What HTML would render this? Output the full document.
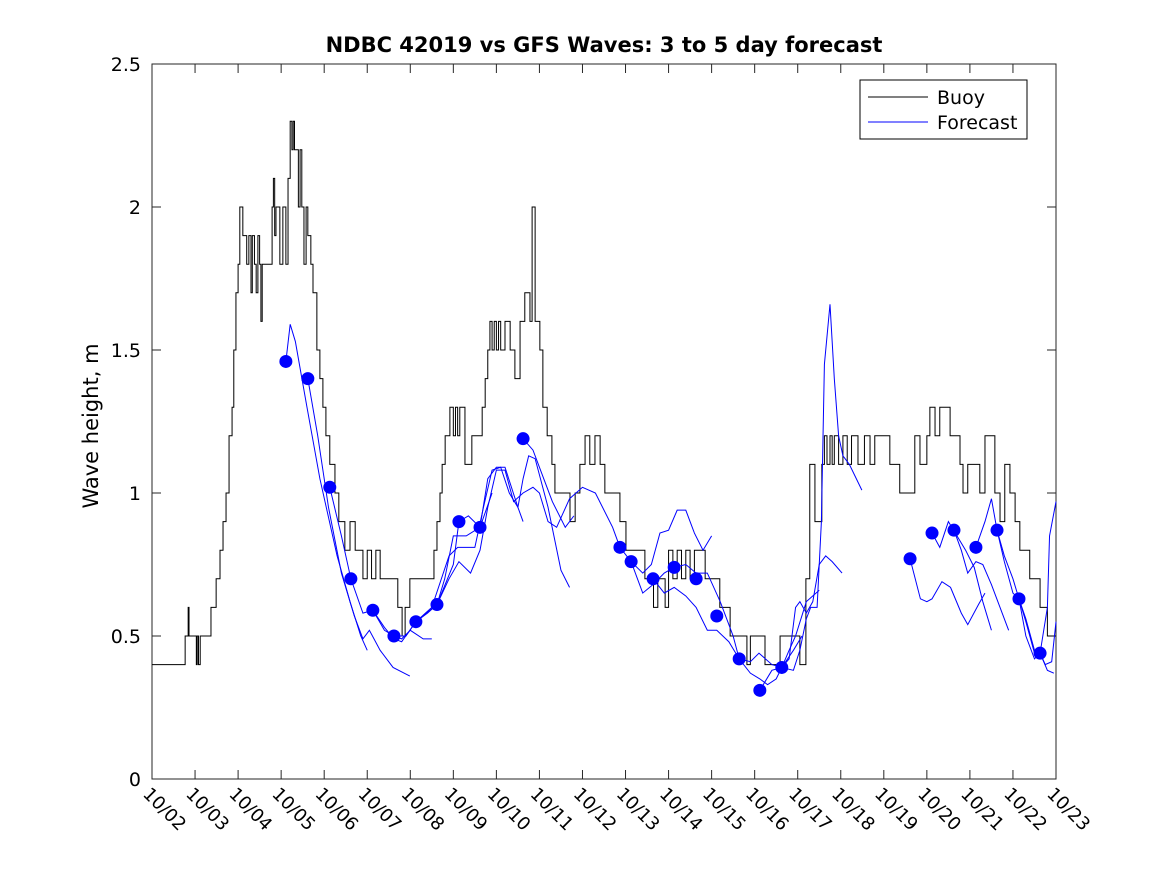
<!DOCTYPE html>
<html><head><meta charset="utf-8"><style>
body{margin:0;background:#fff}
svg{display:block;font-family:"DejaVu Sans","Liberation Sans",sans-serif}
</style></head><body>
<svg id="chart" width="1167" height="875" viewBox="0 0 1167 875">
<rect width="1167" height="875" fill="#fff"/>
<text x="604" y="52" text-anchor="middle" font-size="21" font-weight="bold">NDBC 42019 vs GFS Waves: 3 to 5 day forecast</text>
<text transform="translate(98,426) rotate(-90)" text-anchor="middle" font-size="21">Wave height, m</text>
<g id="axes"></g>
<g id="marks"></g>
<g id="legend">
<rect x="860" y="80" width="167" height="59" fill="#fff" stroke="#000" stroke-width="1"/>
<line x1="868" y1="97" x2="928" y2="97" stroke="#000"/>
<text x="937" y="104" font-size="19">Buoy</text>
<line x1="868" y1="122" x2="928" y2="122" stroke="#00f"/>
<text x="937" y="129" font-size="19">Forecast</text>
</g>
</svg>
<script>
const dayTicks=[2,3,4,5,6,7,8,9,10,11,12,13,14,15,16,17,18,19,20,21,22,23];
const yTicks=[0,0.5,1,1.5,2,2.5];
const yTickLabels=["0","0.5","1","1.5","2","2.5"];
const buoyT=[2,2.77,2.84,2.86,2.88,3.03,3.05,3.08,3.12,3.14,3.16,3.37,3.49,3.58,3.65,3.72,3.79,3.86,3.9,3.95,4.0,4.04,4.11,4.2,4.25,4.3,4.33,4.38,4.42,4.46,4.5,4.53,4.56,4.74,4.79,4.82,4.85,4.88,4.97,5.04,5.11,5.16,5.21,5.25,5.28,5.31,5.35,5.4,5.44,5.48,5.53,5.58,5.62,5.69,5.74,5.83,5.9,5.97,6.04,6.13,6.25,6.34,6.48,6.6,6.72,6.8,6.9,7.0,7.1,7.2,7.3,7.41,7.71,7.81,7.88,7.99,8.55,8.62,8.69,8.74,8.81,8.92,9.0,9.05,9.1,9.15,9.27,9.43,9.67,9.74,9.8,9.85,9.9,9.95,10.0,10.05,10.1,10.2,10.32,10.43,10.55,10.66,10.78,10.83,10.9,11.01,11.08,11.18,11.29,11.36,11.71,11.83,11.94,12.06,12.17,12.29,12.41,12.52,12.87,13.01,13.45,13.55,13.65,13.75,13.92,14.0,14.1,14.2,14.3,14.4,14.5,14.6,14.85,15.08,15.19,15.31,15.43,15.82,15.9,16.24,16.4,16.59,17.05,17.12,17.19,17.28,17.4,17.52,17.56,17.62,17.68,17.75,17.8,17.85,17.95,18.05,18.15,18.25,18.4,18.55,18.68,18.79,19.14,19.37,19.72,19.84,19.91,20.0,20.07,20.19,20.3,20.54,20.77,20.84,20.95,21.23,21.35,21.58,21.7,21.81,21.93,22.05,22.16,22.39,22.63,22.8,23];
const buoyV=[0.4,0.5,0.6,0.5,0.5,0.4,0.5,0.4,0.5,0.5,0.5,0.6,0.7,0.8,0.9,1.0,1.2,1.3,1.5,1.7,1.8,2.0,1.9,1.8,1.9,1.7,1.9,1.8,1.7,1.9,1.8,1.6,1.8,1.8,2.0,2.1,1.9,2.0,1.8,2.0,1.8,2.1,2.3,2.2,2.3,2.2,2.2,2.0,2.2,2.0,1.8,2.0,1.9,1.8,1.7,1.5,1.4,1.3,1.2,1.1,1.0,0.9,0.8,0.9,0.8,0.8,0.7,0.8,0.7,0.8,0.7,0.7,0.6,0.5,0.6,0.7,0.8,0.9,1.0,1.1,1.2,1.3,1.2,1.3,1.2,1.3,1.1,1.2,1.3,1.4,1.5,1.6,1.5,1.6,1.5,1.6,1.5,1.6,1.5,1.4,1.6,1.7,1.6,2.0,1.6,1.5,1.3,1.2,1.1,1.0,0.9,1.0,1.1,1.2,1.1,1.2,1.1,1.0,0.9,0.8,0.7,0.7,0.6,0.7,0.6,0.8,0.7,0.8,0.7,0.8,0.7,0.8,0.7,0.7,0.6,0.6,0.5,0.4,0.5,0.4,0.4,0.5,0.4,0.4,0.7,1.1,0.9,0.9,1.1,1.2,1.1,1.2,1.1,1.2,1.1,1.2,1.1,1.2,1.1,1.2,1.1,1.2,1.1,1.0,1.2,1.1,1.1,1.2,1.3,1.2,1.3,1.2,1.1,1.0,1.1,1.0,1.2,1.0,0.9,1.1,1.0,0.9,0.8,0.7,0.6,0.5,0.5,0.45,0.4,0.5];
const dotT=[5.11,5.62,6.13,6.62,7.13,7.62,8.13,8.62,9.13,9.62,10.62,12.87,13.13,13.64,14.13,14.64,15.12,15.64,16.12,16.63,19.61,20.12,20.63,21.14,21.63,22.14,22.63];
const dotV=[1.46,1.40,1.02,0.70,0.59,0.50,0.55,0.61,0.90,0.88,1.19,0.81,0.76,0.70,0.74,0.70,0.57,0.42,0.31,0.39,0.77,0.86,0.87,0.81,0.87,0.63,0.44];
const fcT1=[5.11,5.21,5.33,5.6,5.9,6.3,6.6,6.85,7.0];const fcV1=[1.46,1.59,1.53,1.3,1.05,0.78,0.62,0.5,0.45];
const fcT2=[5.62,5.85,6.1,6.4,6.7,6.9,7.05,7.3,7.6,7.99];const fcV2=[1.40,1.2,0.95,0.72,0.57,0.49,0.52,0.45,0.39,0.36];
const fcT3=[6.13,6.4,6.62,6.9,7.13,7.4,7.62,7.8,8.0,8.3,8.5];const fcV3=[1.02,0.85,0.70,0.58,0.59,0.52,0.50,0.49,0.52,0.49,0.49];
const fcT4=[7.13,7.4,7.62,7.8,8.13,8.62,9.0,9.13,9.35,9.62,9.9];const fcV4=[0.59,0.53,0.49,0.48,0.55,0.61,0.75,0.90,0.92,0.88,1.0];
const fcT5=[7.62,7.9,8.13,8.4,8.62,8.8,9.0,9.3,9.62,9.8,10.0,10.2,10.5,10.62];const fcV5=[0.50,0.5,0.55,0.58,0.61,0.7,0.85,0.85,0.88,1.05,1.09,1.09,0.95,0.9];
const fcT6=[8.13,8.5,8.9,9.1,9.5,9.7,9.9,10.1,10.3,10.5,10.62,10.75,10.9,11.2,11.5,11.7];const fcV6=[0.55,0.6,0.78,0.81,0.81,0.95,1.08,1.09,1.0,0.95,1.05,1.13,1.12,0.95,0.73,0.67];
const fcT7=[8.62,8.9,9.13,9.4,9.62,9.8,10.0,10.2,10.4,10.62,10.85,11.0,11.2,11.4,11.7,12.0,12.3,12.7,12.87];const fcV7=[0.61,0.7,0.76,0.72,0.8,0.95,1.08,1.08,0.97,1.0,1.02,1.0,0.9,0.88,0.98,1.02,1.0,0.88,0.81];
const fcT8=[10.62,10.85,11.1,11.3,11.6,11.8];const fcV8=[1.19,1.15,1.05,0.97,0.88,0.92];
const fcT9=[12.87,13.13,13.4,13.6,13.8,14.0,14.2,14.4,14.6,14.8,15.0];const fcV9=[0.81,0.76,0.72,0.75,0.86,0.87,0.94,0.94,0.86,0.8,0.85];
const fcT10=[13.13,13.4,13.64,13.9,14.13,14.4,14.64,14.9,15.2,15.5,15.64,15.9,16.1,16.4,16.63,16.9,17.1];const fcV10=[0.76,0.65,0.68,0.72,0.74,0.75,0.72,0.72,0.62,0.5,0.42,0.41,0.44,0.4,0.39,0.45,0.5];
const fcT11=[13.64,13.9,14.13,14.4,14.64,14.9,15.12,15.4,15.64,15.9,16.12,16.3,16.5,16.63,16.8,16.95,17.2,17.5];const fcV11=[0.70,0.65,0.67,0.64,0.6,0.52,0.52,0.48,0.42,0.37,0.35,0.33,0.35,0.39,0.45,0.5,0.62,0.66];
const fcT12=[16.12,16.4,16.63,16.9,17.05,17.2,17.3,17.45,17.55,17.62,17.75,17.85,17.95,18.05,18.2,18.49];const fcV12=[0.31,0.38,0.39,0.38,0.45,0.56,0.6,0.6,0.9,1.45,1.66,1.4,1.2,1.13,1.1,1.01];
const fcT13=[16.63,16.8,16.95,17.05,17.2,17.35,17.5,17.65,17.8,18.03];const fcV13=[0.39,0.42,0.6,0.62,0.58,0.62,0.75,0.78,0.76,0.72];
const fcT14=[19.61,19.85,20.0,20.12,20.35,20.55,20.8,20.95,21.2,21.35];const fcV14=[0.77,0.63,0.62,0.63,0.69,0.67,0.58,0.54,0.61,0.65];
const fcT15=[20.12,20.3,20.5,20.7,20.9,21.1,21.3,21.5];const fcV15=[0.86,0.81,0.9,0.85,0.8,0.74,0.62,0.52];
const fcT16=[20.63,20.8,20.95,21.14,21.3,21.5,21.7,21.9];const fcV16=[0.87,0.8,0.72,0.76,0.75,0.68,0.6,0.52];
const fcT17=[21.14,21.35,21.5,21.63,21.8,22.0,22.14,22.3,22.5,22.63,22.8,22.95];const fcV17=[0.81,0.9,0.98,0.87,0.76,0.65,0.63,0.55,0.44,0.44,0.38,0.37];
const fcT18=[21.63,21.8,22.0,22.14,22.3,22.5,22.63,22.8,22.85,23.0];const fcV18=[0.87,0.78,0.7,0.63,0.5,0.42,0.44,0.6,0.85,0.97];
const fcT19=[22.14,22.3,22.5,22.63,22.75,22.9,23.0];const fcV19=[0.63,0.56,0.45,0.44,0.4,0.41,0.55];

const X0=152,X1=1056,Y0=779,Y1=64;
const xs=d=>X0+(d-2)*(X1-X0)/21;
const ys=v=>Y0-v*(Y0-Y1)/2.5;
const NS="http://www.w3.org/2000/svg";
function mk(tag,parent,attrs){const e=document.createElementNS(NS,tag);for(const k in attrs)e.setAttribute(k,attrs[k]);parent.appendChild(e);return e;}
const axes=document.getElementById('axes'),marks=document.getElementById('marks');
const frame=mk('rect',axes,{x:X0,y:Y1,width:X1-X0,height:Y0-Y1,fill:'none',stroke:'#262626','stroke-width':1});


dayTicks.forEach(d=>{
  const x=xs(d);
  const t1=mk('line',axes,{x1:x,y1:Y0,x2:x,y2:Y0-9,stroke:'#262626'});
  
  
  const t2=mk('line',axes,{x1:x,y1:Y1,x2:x,y2:Y1+9,stroke:'#262626'});
  
  
  const lbl=mk('text',axes,{x:0,y:0,'font-size':18,transform:`translate(${x-10},${795}) rotate(45)`});
  lbl.textContent='10/'+String(d).padStart(2,'0');
  
  
});
yTicks.forEach((v,i)=>{
  const y=ys(v);
  const t1=mk('line',axes,{x1:X0,y1:y,x2:X0+9,y2:y,stroke:'#262626'});
  
  
  const t2=mk('line',axes,{x1:X1,y1:y,x2:X1-9,y2:y,stroke:'#262626'});
  
  
  const lbl=mk('text',axes,{x:X0-11,y:y+7,'text-anchor':'end','font-size':19});
  lbl.textContent=yTickLabels[i];
  
  
});
let p=`M${xs(buoyT[0])},${ys(buoyV[0])}`;
for(let i=1;i<buoyT.length;i++){p+=`H${xs(buoyT[i])}V${ys(buoyV[i])}`;}
const buoy=mk('path',marks,{d:p,fill:'none',stroke:'#000','stroke-width':1});


const fcs=[[fcT1,fcV1],[fcT2,fcV2],[fcT3,fcV3],[fcT4,fcV4],[fcT5,fcV5],[fcT6,fcV6],[fcT7,fcV7],[fcT8,fcV8],[fcT9,fcV9],[fcT10,fcV10],[fcT11,fcV11],[fcT12,fcV12],[fcT13,fcV13],[fcT14,fcV14],[fcT15,fcV15],[fcT16,fcV16],[fcT17,fcV17],[fcT18,fcV18],[fcT19,fcV19]];
fcs.forEach(([T,V])=>{
  const pts=T.map((t,i)=>xs(t)+','+ys(V[i])).join(' ');
  const l=mk('polyline',marks,{points:pts,fill:'none',stroke:'#00f','stroke-width':1});
  
  
});
dotT.forEach((t,i)=>{
  const c=mk('circle',marks,{cx:xs(t),cy:ys(dotV[i]),r:6.5,fill:'#00f'});
  
  
});
</script>
</body></html>
